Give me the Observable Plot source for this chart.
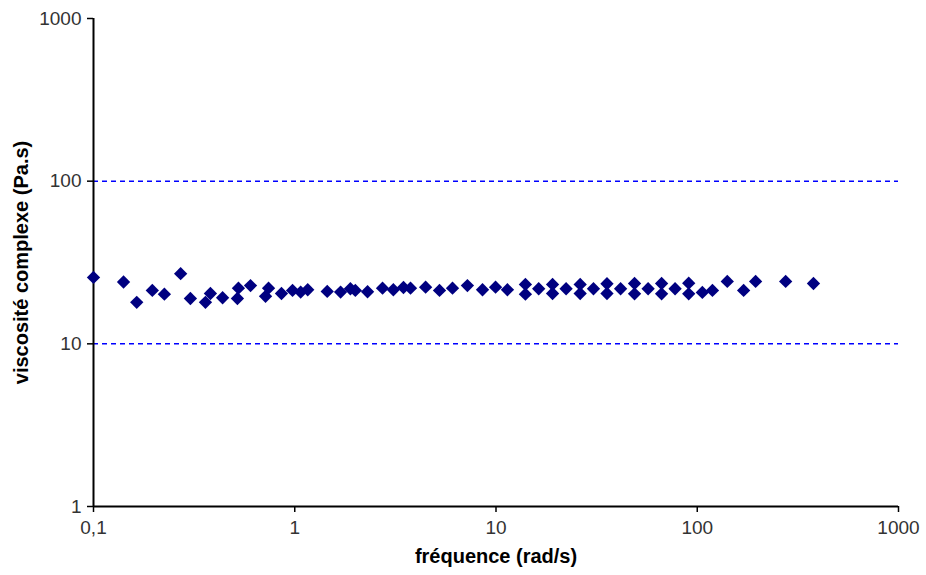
<!DOCTYPE html>
<html>
<head>
<meta charset="utf-8">
<script src="https://cdn.jsdelivr.net/npm/d3@7"></script>
<script src="https://cdn.jsdelivr.net/npm/@observablehq/plot@0.6"></script>
<style>
  html, body { margin: 0; padding: 0; background: #fff; }
  #chart svg { display: block; }
</style>
</head>
<body>
<div id="chart"></div>
<script>
// Frequency (rad/s) and complex viscosity (Pa.s)
const frequence = [
  0.100, 0.141, 0.164, 0.196, 0.225, 0.271, 0.303, 0.360, 0.381, 0.438,
  0.519, 0.525, 0.603, 0.716, 0.741, 0.859, 0.975,
  1.07, 1.16, 1.45, 1.69, 1.89, 2.00, 2.30, 2.73, 3.09, 3.47,
  3.76, 4.47, 5.24, 6.08, 7.21, 8.57, 9.95,
  11.4, 14.0, 14.0, 16.3, 19.1, 19.1, 22.3, 26.2, 26.2, 30.5,
  35.6, 35.6, 41.6, 48.8, 48.8, 57.0, 66.5, 66.5, 77.6, 90.7, 90.7,
  106, 119, 141, 170, 195, 275, 378
];
const viscosite = [
  25.6, 24.0, 18.0, 21.3, 20.2, 27.0, 19.0, 18.0, 20.4, 19.2,
  19.0, 22.0, 22.8, 19.6, 22.0, 20.4, 21.3,
  20.8, 21.5, 21.0, 20.8, 21.8, 21.3, 20.9, 22.0, 21.5, 22.2,
  22.0, 22.3, 21.3, 22.0, 22.8, 21.5, 22.3,
  21.5, 23.2, 20.2, 21.8, 23.2, 20.4, 21.8, 23.2, 20.4, 21.8,
  23.4, 20.4, 21.8, 23.5, 20.3, 21.8, 23.5, 20.3, 21.8, 23.6, 20.3,
  20.7, 21.3, 24.2, 21.3, 24.2, 24.2, 23.5
];
const xTicks = [0.1, 1, 10, 100, 1000];
const xTickLabels = ["0,1", "1", "10", "100", "1000"];
const yTicks = [1, 10, 100, 1000];
const yTickLabels = ["1", "10", "100", "1000"];
const gridValues = [10, 100];

const data = frequence.map((f, i) => ({f, v: viscosite[i]}));

const chart = Plot.plot({
  width: 926,
  height: 575,
  marginLeft: 93,
  marginRight: 28,
  marginTop: 18,
  marginBottom: 69,
  style: {fontFamily: "Liberation Sans, Arial, sans-serif", fontSize: "19px", color: "#000", background: "#fff"},
  x: {type: "log", domain: [0.1, 1000]},
  y: {type: "log", domain: [1, 1000]},
  marks: [
    Plot.ruleY(gridValues, {stroke: "#0000ff", strokeDasharray: "5,4", strokeWidth: 1.5}),
    Plot.axisX({ticks: xTicks, tickFormat: (d) => xTickLabels[xTicks.indexOf(d)], tickSize: 6, tickPadding: 8, stroke: "#000", strokeWidth: 1.5,
      label: "fréquence (rad/s)", labelAnchor: "center", labelArrow: "none", labelOffset: 56, fontSize: 19, fill: "#333"}),
    Plot.axisY({ticks: yTicks, tickFormat: (d) => yTickLabels[yTicks.indexOf(d)], tickSize: 6, tickPadding: 6, stroke: "#000", strokeWidth: 1.5,
      label: "viscosité complexe (Pa.s)", labelAnchor: "center", labelArrow: "none", labelOffset: 80, fontSize: 19, fill: "#333"}),
    Plot.ruleX([0.1], {stroke: "#000", strokeWidth: 2}),
    Plot.ruleY([1], {stroke: "#000", strokeWidth: 2}),
    Plot.dot(data, {x: "f", y: "v", symbol: "diamond2", r: 6, fill: "#000080", stroke: "none"})
  ]
});
d3.select(chart).selectAll("[aria-label='x-axis label'] text, [aria-label='y-axis label'] text")
  .style("font-weight", "bold").style("font-size", "20px").attr("fill", "#000");
document.getElementById("chart").appendChild(chart);
</script>
</body>
</html>
